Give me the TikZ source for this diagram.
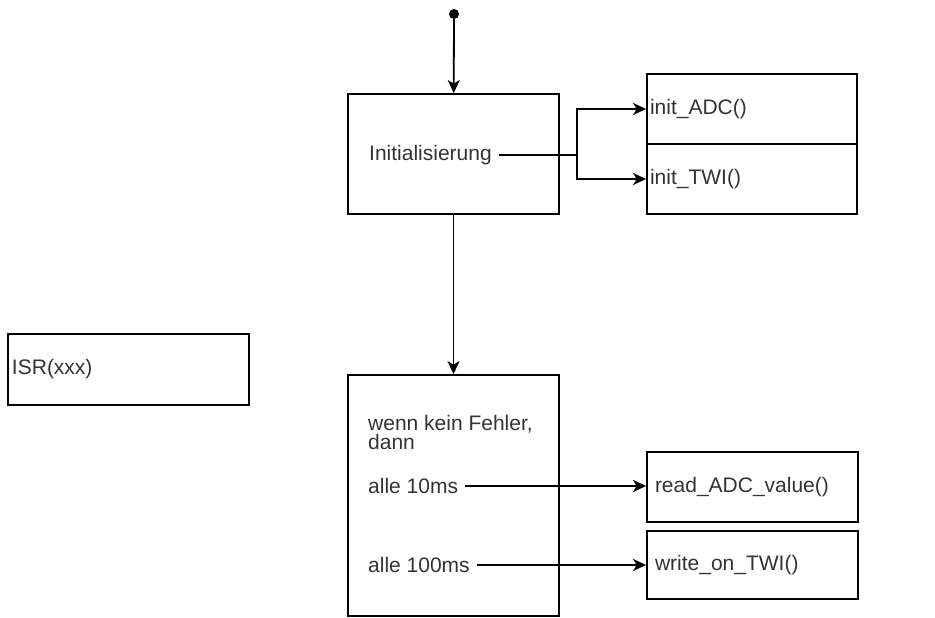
\documentclass[tikz,border=0pt]{standalone}
\usepackage{fontspec}
\setmainfont{Liberation Sans}
\usetikzlibrary{arrows.meta}

\begin{document}
\begin{tikzpicture}[
    x=1pt, y=-1pt,
    box/.style={draw, line width=1.8pt, rectangle, inner ysep=0pt, align=left, font=\fontsize{21}{19}\selectfont, text=black!80},
    txt/.style={inner xsep=7pt, inner ysep=0pt, align=left, font=\fontsize{21}{19}\selectfont, text=black!80},
    arrow/.style={-{Stealth[length=13pt, width=12pt, inset=3.5pt]}, line width=1.8pt}
]
    \useasboundingbox (0,0) rectangle (935,618);

    \node[circle, fill=black, inner sep=0pt, minimum size=10pt] (start) at (454,14) {};
    \node[box, minimum width=211pt, minimum height=120pt] (init) at (453.5,154) {};
    \node[txt, anchor=west] (initlbl) at (362,155) {Initialisierung};
    \coordinate (split) at (577,155);

    \node[box, text width=204pt, inner xsep=3pt, minimum height=70pt] (adc) at (752,109) {init\_ADC()};
    \node[box, text width=204pt, inner xsep=3pt, minimum height=70pt] (twi) at (752,179) {init\_TWI()};

    \node[box, text width=233pt, inner xsep=4pt, minimum height=71pt] (isr) at (128.5,369.5) {ISR(xxx)};

    \node[box, minimum width=211pt, minimum height=241pt] (loop) at (453.5,495.5) {};
    \node[txt, anchor=west] (cond) at (361,432.5) {wenn kein Fehler,\\dann};
    \node[txt, anchor=west] (t10) at (361,486) {alle 10ms};
    \node[txt, anchor=west] (t100) at (361,565) {alle 100ms};

    \node[box, text width=195pt, inner xsep=8pt, minimum height=70pt] (read) at (752.5,487) {read\_ADC\_value()};
    \node[box, text width=195pt, inner xsep=8pt, minimum height=68pt] (write) at (752.5,565) {write\_on\_TWI()};

    \draw[arrow] (start) -- (init);
    \draw[arrow] (init) -- (loop);
    \draw[line width=1.8pt] (initlbl) -- (split);
    \draw[arrow] (split) |- (adc);
    \draw[arrow] (split) |- (twi);
    \draw[arrow] (t10) -- (t10 -| read.west);
    \draw[arrow] (t100) -- (t100 -| write.west);
\end{tikzpicture}
\end{document}
